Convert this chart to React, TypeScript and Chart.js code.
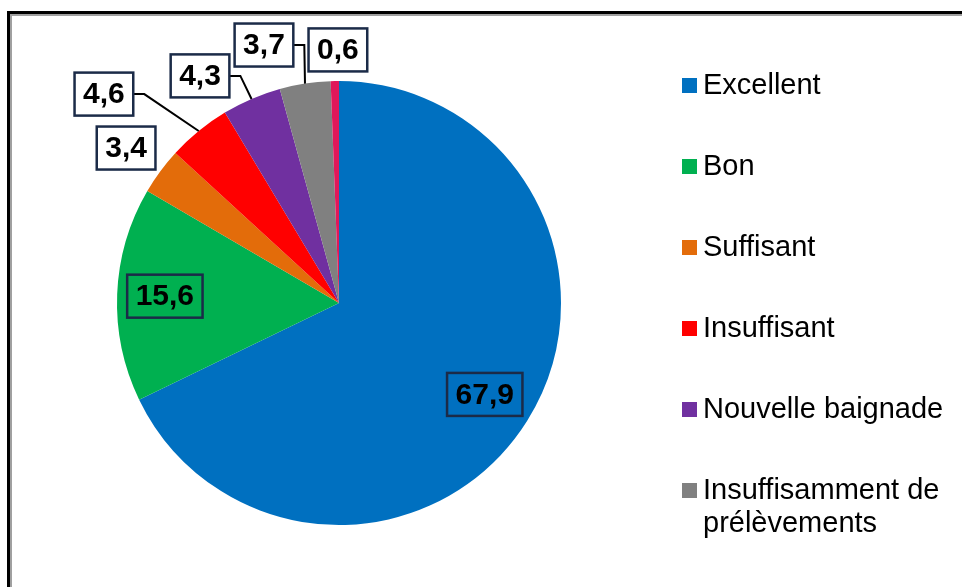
import React, { useEffect, useRef } from "react";
import { Chart, registerables } from "chart.js";

Chart.register(...registerables);

// ---- Data ----
const categories = [
  "Excellent",
  "Bon",
  "Suffisant",
  "Insuffisant",
  "Nouvelle baignade",
  "Insuffisamment de prélèvements",
  "Autre",
];
const values = [67.9, 15.6, 3.4, 4.6, 4.3, 3.7, 0.6];
const valueLabels = ["67,9", "15,6", "3,4", "4,6", "4,3", "3,7", "0,6"];
const legendLines = [
  ["Excellent"],
  ["Bon"],
  ["Suffisant"],
  ["Insuffisant"],
  ["Nouvelle baignade"],
  ["Insuffisamment de", "prélèvements"],
];

// ---- Styles ----
const colors = ["#0070C0", "#00B050", "#E36C0A", "#FF0000", "#7030A0", "#808080", "#E0185A"];
const FONT = '"Liberation Sans", Arial, Helvetica, sans-serif';

// label placement (inside: fraction of radius on mid angle; outside: offset from centre in radius units)
type Place = { inside: boolean; rf?: number; dx?: number; dy?: number; leader?: boolean };
const placements: Place[] = [
  { inside: true, rf: 0.775 },
  { inside: true, rf: 0.785 },
  { inside: false, dx: -0.959, dy: -0.698, leader: false },
  { inside: false, dx: -1.059, dy: -0.941, leader: true },
  { inside: false, dx: -0.626, dy: -1.023, leader: true },
  { inside: false, dx: -0.338, dy: -1.162, leader: true },
  { inside: false, dx: -0.005, dy: -1.14, leader: false },
];

const labelPlugin = {
  id: "boxLabels",
  afterDatasetsDraw(chart: any) {
    const ctx = chart.ctx as CanvasRenderingContext2D;
    const meta = chart.getDatasetMeta(0);
    ctx.save();
    ctx.font = `bold 30px ${FONT}`;
    ctx.textAlign = "center";
    ctx.textBaseline = "middle";
    meta.data.forEach((arc: any, i: number) => {
      const p = placements[i];
      const { x, y, startAngle, endAngle, outerRadius } = arc.getProps(
        ["x", "y", "startAngle", "endAngle", "outerRadius"],
        true
      );
      const mid = (startAngle + endAngle) / 2;
      let cx: number, cy: number;
      if (p.inside) {
        cx = x + Math.cos(mid) * outerRadius * (p.rf as number);
        cy = y + Math.sin(mid) * outerRadius * (p.rf as number);
      } else {
        cx = x + (p.dx as number) * outerRadius;
        cy = y + (p.dy as number) * outerRadius;
      }
      const text = valueLabels[i];
      const tw = ctx.measureText(text).width;
      const w = tw + 17;
      const h = 43;
      const bx = cx - w / 2;
      const by = cy - h / 2;
      if (p.leader) {
        const ex = x + Math.cos(mid) * outerRadius;
        const ey = y + Math.sin(mid) * outerRadius;
        ctx.beginPath();
        ctx.strokeStyle = "#000000";
        ctx.lineWidth = 2;
        ctx.moveTo(bx + w, cy);
        ctx.lineTo(bx + w + 11, cy);
        ctx.lineTo(ex, ey);
        ctx.stroke();
      }
      if (!p.inside) {
        ctx.fillStyle = "#FFFFFF";
        ctx.fillRect(bx, by, w, h);
      }
      ctx.strokeStyle = "#1B2B48";
      ctx.lineWidth = 2.5;
      ctx.strokeRect(bx, by, w, h);
      ctx.fillStyle = "#000000";
      ctx.fillText(text, cx, cy + 1);
    });
    ctx.restore();
  },
};

const legendPlugin = {
  id: "customLegend",
  afterDraw(chart: any) {
    const ctx = chart.ctx as CanvasRenderingContext2D;
    const bg = chart.data.datasets[0].backgroundColor as string[];
    ctx.save();
    ctx.font = `29px ${FONT}`;
    ctx.textAlign = "left";
    ctx.textBaseline = "middle";
    const x0 = 682;
    const y0 = 85;
    const step = 81;
    legendLines.forEach((lines, i) => {
      const yc = y0 + i * step;
      ctx.fillStyle = bg[i];
      ctx.fillRect(x0, yc - 7, 15, 15);
      ctx.fillStyle = "#000000";
      lines.forEach((ln, j) => {
        ctx.fillText(ln, x0 + 21, yc + 1 + j * 33);
      });
    });
    ctx.restore();
  },
};

export default function App() {
  const ref = useRef<HTMLCanvasElement | null>(null);
  useEffect(() => {
    if (!ref.current) return;
    const chart = new Chart(ref.current, {
      type: "pie",
      data: {
        labels: categories,
        datasets: [
          {
            data: values,
            backgroundColor: colors,
            borderWidth: 0,
          },
        ],
      },
      options: {
        responsive: false,
        animation: false,
        layout: { padding: { left: 117, top: 81, right: 401, bottom: 62 } },
        plugins: {
          legend: { display: false },
          tooltip: { enabled: false },
        },
      },
      plugins: [labelPlugin, legendPlugin],
    });
    return () => chart.destroy();
  }, []);

  return (
    <div
      style={{
        position: "fixed",
        left: 0,
        top: 0,
        width: 962,
        height: 587,
        overflow: "hidden",
        background: "#FFFFFF",
      }}
    >
      <div
        style={{
          position: "absolute",
          left: 7,
          top: 11,
          width: 1100,
          height: 800,
          borderLeft: "3px solid #000000",
          borderTop: "3px solid #000000",
          boxSizing: "border-box",
        }}
      >
        <div
          style={{
            position: "absolute",
            left: 0,
            top: 0,
            right: 0,
            bottom: 0,
            borderLeft: "2px solid #A0A0A0",
            borderTop: "2px solid #A0A0A0",
          }}
        />
      </div>
      <canvas
        ref={ref}
        width={962}
        height={587}
        style={{ position: "absolute", left: 0, top: 0, width: 962, height: 587 }}
      />
    </div>
  );
}
